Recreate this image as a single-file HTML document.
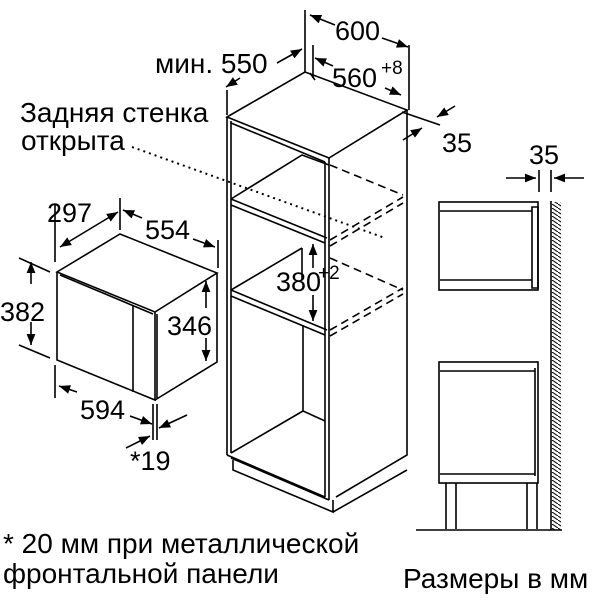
<!DOCTYPE html>
<html><head><meta charset="utf-8"><style>
html,body{margin:0;padding:0;background:#fff}
svg{display:block}
text{font-family:"Liberation Sans",sans-serif;fill:#000}
</style></head><body>
<svg width="600" height="600" viewBox="0 0 600 600" xmlns="http://www.w3.org/2000/svg">
<defs>
<marker id="a" viewBox="0 0 10 10" refX="10" refY="5" markerWidth="7" markerHeight="7" orient="auto-start-reverse"><path d="M0,1 L10,5 L0,9z" fill="#000"/></marker>
<pattern id="h" width="6" height="4" patternUnits="userSpaceOnUse"><path d="M0,0 L6,4" stroke="#000" stroke-width="1"/></pattern>
</defs>
<g stroke="#000" stroke-width="1.6" fill="none">
<path d="M227,117 L305,72 L407,110 L329,158 Z"/>
<path d="M227,117 L227,455 M231,121 L231,453 M329,158 L329,500 M325,162 L325,497"/>
<path d="M407,110 L407,455 L336,497"/>
<path d="M231,123 L325,162"/>
<path d="M231,199 L302,155 L329,165 M231,199 L327,238 M231,205 L325,243"/>
<path d="M231,290 L302,248 M231,290 L327,330 M231,296 L325,335"/>
<path d="M302,248 L302,280 M303,325 L303,411 L325,421 M231,453 L303,411"/>
<path d="M227,455 L325,497 M231,458 L329,500 M233,460 L233,470 L333,512 L333,500 M333,512 L407,470"/>
<path d="M305,72 L305,65 M310,73 L315,80"/>
<g stroke-dasharray="8,5">
<path d="M330,165 L403,195 M330,240 L403,197 M330,246 L403,203"/>
<path d="M330,258 L403,290 M330,330 L403,288 M330,336 L403,294"/>
</g>
<path d="M132,147 L385,238" stroke-dasharray="2,4" stroke-width="2"/>
<path d="M305,10 L305,65 M409,45 L409,110 M313,45 L313,78"/>
<path d="M310,15 L335,25" marker-start="url(#a)"/>
<path d="M382,38 L408,47" marker-end="url(#a)"/>
<path d="M315,58 L333,66" marker-start="url(#a)"/>
<path d="M385,88 L401,95" marker-end="url(#a)"/>
<path d="M227,115 L227,90"/>
<path d="M240,78 L226,87" marker-end="url(#a)"/>
<path d="M277,63 L302,49" marker-end="url(#a)"/>
<path d="M402,112 L440,125"/>
<path d="M455,106 L437,117" marker-end="url(#a)"/>
<path d="M403,140 L422,128" marker-end="url(#a)"/>
<path d="M313,268 L313,244" marker-end="url(#a)"/>
<path d="M313,295 L313,321" marker-end="url(#a)"/>
<path d="M57,272 L120,234 L217,273 L155,312 Z"/>
<path d="M57,272 L57,360 L155,400 L155,312 M155,400 L217,362 L217,273 M60,275 L153,314 M133,305 L133,392 M157,314 L157,398"/>
<path d="M55,205 L55,262 M120,198 L120,230 M218,240 L218,268"/>
<path d="M60,247 L118,212" marker-start="url(#a)" marker-end="url(#a)"/>
<path d="M123,210 L142,218" marker-start="url(#a)"/>
<path d="M193,239 L215,247" marker-end="url(#a)"/>
<path d="M19,258 L50,272 M19,345 L50,358"/>
<path d="M31,284 L31,262" marker-end="url(#a)"/>
<path d="M31,322 L31,345" marker-end="url(#a)"/>
<path d="M206,308 L206,281" marker-end="url(#a)"/>
<path d="M206,338 L206,361" marker-end="url(#a)"/>
<path d="M55,365 L55,398 M153,404 L153,440 M157,404 L157,440"/>
<path d="M77,392 L59,386" marker-end="url(#a)"/>
<path d="M130,416 L152,424" marker-end="url(#a)"/>
<path d="M187,415 L159,428" marker-end="url(#a)"/>
<path d="M126,448 L150,436" marker-end="url(#a)"/>
<rect x="439" y="202" width="99" height="88"/>
<path d="M440,211 L532,211 M440,280 L532,280 M532,207 L538,207 L538,288 L532,288 Z"/>
<rect x="439" y="362" width="99" height="121"/>
<path d="M440,371 L535,371 M440,474 L535,474 M535,368 L535,476"/>
<path d="M446,483 L446,529 M456,483 L456,529 M527,483 L527,529 M537,483 L537,529"/>
<path d="M416,530 L562,530"/>
<path d="M551,201 L551,530"/>
<path d="M539,170 L539,192 M551,170 L551,192"/>
<path d="M506,178 L536,178" marker-end="url(#a)"/>
<path d="M584,178 L554,178" marker-end="url(#a)"/>
</g>
<rect x="552" y="202" width="9" height="328" fill="url(#h)"/>
<g font-size="28">
<text x="335" y="40" font-size="27">600</text>
<text x="155" y="73">мин. 550</text>
<text x="332" y="87" font-size="27">560</text><text x="381" y="74" font-size="19">+8</text>
<text x="442" y="152" font-size="27">35</text>
<text x="20" y="122">Задняя стенка</text>
<text x="21" y="150">открыта</text>
<text x="529" y="164" font-size="27">35</text>
<text x="47" y="222" font-size="27">297</text>
<text x="145" y="239" font-size="27">554</text>
<text x="0" y="321" font-size="27">382</text>
<text x="167" y="335" font-size="27">346</text>
<text x="276" y="291" font-size="27">380</text><text x="318" y="279" font-size="19">+2</text>
<text x="80" y="419" font-size="27">594</text>
<text x="130" y="470" font-size="27">*19</text>
<text x="3" y="553">* 20 мм при металлической</text>
<text x="3" y="583">фронтальной панели</text>
<text x="403" y="588">Размеры в мм</text>
</g>
</svg>
</body></html>
